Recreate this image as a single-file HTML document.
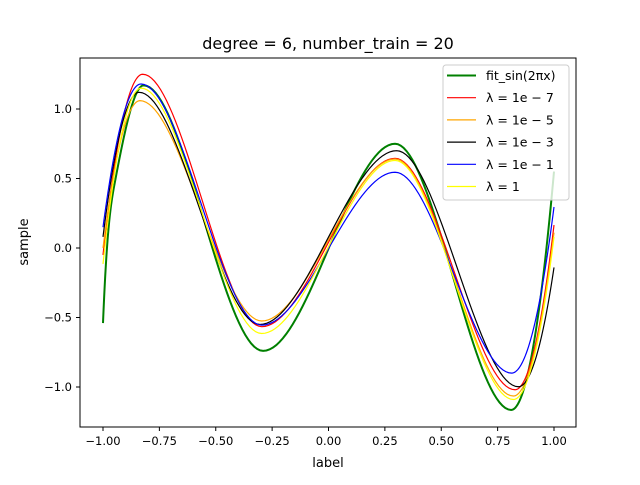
<!DOCTYPE html>
<html><head><meta charset="utf-8"><style>
body{margin:0;background:#fff}
svg text{font-family:"DejaVu Sans","Liberation Sans",sans-serif;fill:#000}
</style></head><body>
<svg id="chart" width="640" height="480" viewBox="0 0 640 480" xmlns="http://www.w3.org/2000/svg">
<rect width="640" height="480" fill="#fff"/>
<g id="plot"></g>
<rect x="80" y="58" width="496" height="369" fill="none" stroke="#000" stroke-width="1"/>
<g id="axes"></g>
<text x="328" y="49" font-size="16" text-anchor="middle">degree = 6, number_train = 20</text>
<text x="328" y="467" font-size="13" text-anchor="middle">label</text>
<text transform="translate(28,242) rotate(-90)" font-size="13" text-anchor="middle">sample</text>
<g id="legend"></g>
</svg>
<script>
const xTicks=[-1,-0.75,-0.5,-0.25,0,0.25,0.5,0.75,1];
const xTickLabels=["−1.00","−0.75","−0.50","−0.25","0.00","0.25","0.50","0.75","1.00"];
const yTicks=[-1,-0.5,0,0.5,1];
const yTickLabels=["−1.0","−0.5","0.0","0.5","1.0"];
const seriesNames=["fit_sin(2πx)","λ = 1e − 7","λ = 1e − 5","λ = 1e − 3","λ = 1e − 1","λ = 1"];
const seriesColors=["green","red","orange","black","blue","yellow"];
// key points: x values and y values (ends and extrema)
const greenX=[-1,-0.95,-0.82,-0.29,0.295,0.81,1];
const greenY=[-0.54,0.45,1.17,-0.74,0.75,-1.165,0.55];
const redX=[-1,-0.824,-0.296,0.295,0.827,1];
const redY=[-0.05,1.25,-0.566,0.645,-1.02,0.165];
const orangeX=[-1,-0.836,-0.296,0.295,0.82,1];
const orangeY=[0.0,1.06,-0.525,0.64,-1.065,0.11];
const blackX=[-1,-0.84,-0.304,0.302,0.842,1];
const blackY=[0.08,1.12,-0.55,0.70,-0.998,-0.14];
const blueX=[-1,-0.831,-0.296,0.295,0.812,1];
const blueY=[0.15,1.18,-0.555,0.545,-0.90,0.295];
const yellowX=[-1,-0.831,-0.296,0.295,0.82,1];
const yellowY=[-0.115,1.15,-0.615,0.63,-1.09,0.08];
const allX=[greenX,redX,orangeX,blackX,blueX,yellowX];
const allY=[greenY,redY,orangeY,blackY,blueY,yellowY];

const NS="http://www.w3.org/2000/svg";
function sx(u){return 328.5+225.5*u;}
function sy(v){return 248-139*v;}
function slopes(X,Y){
  const n=X.length,m=[];
  for(let i=0;i<n;i++){
    if(i===0) m.push(2*(Y[1]-Y[0])/(X[1]-X[0]));
    else if(i===n-1) m.push(2*(Y[n-1]-Y[n-2])/(X[n-1]-X[n-2]));
    else{
      const a=(Y[i]-Y[i-1])/(X[i]-X[i-1]),b=(Y[i+1]-Y[i])/(X[i+1]-X[i]);
      m.push(a*b<=0?0:2/(1/a+1/b));
    }
  }
  return m;
}
function curve(X,Y){
  const m=slopes(X,Y);let d="";
  for(let i=0;i<X.length-1;i++){
    const h=X[i+1]-X[i];
    for(let k=0;k<=40;k++){
      if(i>0&&k===0)continue;
      const t=k/40,t2=t*t,t3=t2*t;
      const y=(2*t3-3*t2+1)*Y[i]+(t3-2*t2+t)*h*m[i]+(-2*t3+3*t2)*Y[i+1]+(t3-t2)*h*m[i+1];
      const x=X[i]+t*h;
      d+=(d?"L":"M")+sx(x).toFixed(2)+","+sy(y).toFixed(2);
    }
  }
  return d;
}
const plot=document.getElementById('plot');
for(let s=0;s<allX.length;s++){
  const p=document.createElementNS(NS,'path');
  p.setAttribute('d',curve(allX[s],allY[s]));
  p.setAttribute('fill','none');
  p.setAttribute('stroke',seriesColors[s]);
  p.setAttribute('stroke-width',s===0?2:1.2);
  
  
  plot.appendChild(p);
}
const axes=document.getElementById('axes');
xTicks.forEach((t,i)=>{
  const l=document.createElementNS(NS,'line');
  l.setAttribute('x1',sx(t));l.setAttribute('x2',sx(t));l.setAttribute('y1',427);l.setAttribute('y2',431);l.setAttribute('stroke','#000');
  
  
  axes.appendChild(l);
  const tx=document.createElementNS(NS,'text');
  tx.setAttribute('x',sx(t));tx.setAttribute('y',445);tx.setAttribute('font-size','11.5');tx.setAttribute('text-anchor','middle');
  tx.textContent=xTickLabels[i];
  
  
  axes.appendChild(tx);
});
yTicks.forEach((t,i)=>{
  const l=document.createElementNS(NS,'line');
  l.setAttribute('x1',76);l.setAttribute('x2',80);l.setAttribute('y1',sy(t));l.setAttribute('y2',sy(t));l.setAttribute('stroke','#000');
  
  
  axes.appendChild(l);
  const tx=document.createElementNS(NS,'text');
  tx.setAttribute('x',72);tx.setAttribute('y',sy(t)+4);tx.setAttribute('font-size','11.5');tx.setAttribute('text-anchor','end');
  tx.textContent=yTickLabels[i];
  
  
  axes.appendChild(tx);
});
const leg=document.getElementById('legend');
const box=document.createElementNS(NS,'rect');
box.setAttribute('x',443);box.setAttribute('y',65);box.setAttribute('width',126);box.setAttribute('height',135);box.setAttribute('rx',3);
box.setAttribute('fill','#fff');box.setAttribute('fill-opacity','0.8');box.setAttribute('stroke','#ccc');


leg.appendChild(box);
seriesNames.forEach((n,i)=>{
  const y=75.5+22.2*i;
  const l=document.createElementNS(NS,'line');
  l.setAttribute('x1',447);l.setAttribute('x2',476);l.setAttribute('y1',y);l.setAttribute('y2',y);
  l.setAttribute('stroke',seriesColors[i]);l.setAttribute('stroke-width',i===0?2:1.2);
  
  
  leg.appendChild(l);
  const tx=document.createElementNS(NS,'text');
  tx.setAttribute('x',486);tx.setAttribute('y',y+4.5);tx.setAttribute('font-size','12.5');
  tx.textContent=n;
  
  
  leg.appendChild(tx);
});
</script>
</body></html>
